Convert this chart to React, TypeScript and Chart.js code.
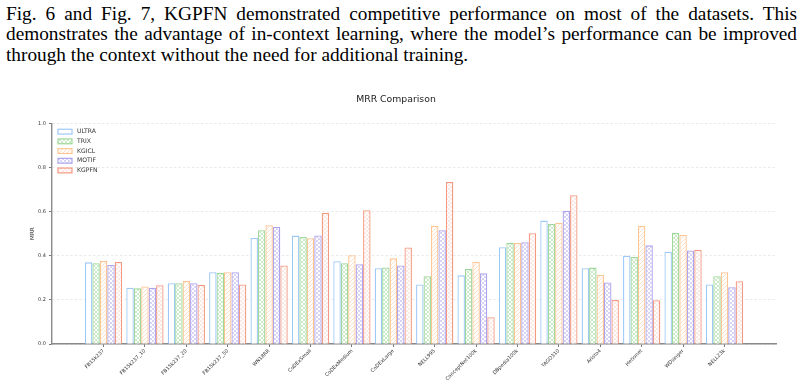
import { useEffect, useRef } from 'react';
import { Chart, registerables } from 'chart.js';

Chart.register(...registerables);

// Paragraph lines printed above the figure
const paragraphLines = [
  'Fig. 6 and Fig. 7, KGPFN demonstrated competitive performance on most of the datasets.  This',
  'demonstrates the advantage of in-context learning, where the model\u2019s performance can be improved',
  'through the context without the need for additional training.',
];

const chartTitle = 'MRR Comparison';
const yAxisLabel = 'MRR';

const categories = [
  'FB15k237', 'FB15k237_10', 'FB15k237_20', 'FB15k237_50', 'WN18RR', 'CoDExSmall',
  'CoDExMedium', 'CoDExLarge', 'NELL995', 'ConceptNet100k', 'DBpedia100k', 'YAGO310',
  'Aristo4', 'Hetionet', 'WDsinger', 'NELL23k',
];

const seriesNames = ['ULTRA', 'TRIX', 'KGICL', 'MOTIF', 'KGPFN'];

const ultra = [0.370, 0.255, 0.275, 0.325, 0.480, 0.491, 0.375, 0.343, 0.270, 0.311, 0.438, 0.559, 0.343, 0.400, 0.418, 0.270];
const trix = [0.366, 0.252, 0.275, 0.323, 0.515, 0.485, 0.366, 0.347, 0.307, 0.341, 0.459, 0.544, 0.346, 0.394, 0.503, 0.307];
const kgicl = [0.376, 0.261, 0.285, 0.325, 0.538, 0.479, 0.402, 0.388, 0.536, 0.372, 0.458, 0.548, 0.314, 0.536, 0.494, 0.325];
const motif = [0.358, 0.255, 0.275, 0.325, 0.530, 0.492, 0.361, 0.356, 0.515, 0.320, 0.461, 0.604, 0.279, 0.447, 0.424, 0.257];
const kgpfn = [0.372, 0.266, 0.267, 0.270, 0.356, 0.595, 0.606, 0.437, 0.734, 0.121, 0.502, 0.674, 0.199, 0.198, 0.427, 0.284];

const yTicks = [0.0, 0.2, 0.4, 0.6, 0.8, 1.0];

const seriesColors = ['#9ec9f7', '#9fd89a', '#fdc593', '#aea4ee', '#f59a82'];
const seriesHatches = ['none', 'cross', 'diag', 'dense', 'dots'];

const FONT = "'DejaVu Sans', sans-serif";

// Build a small repeating hatch tile for a bar fill
function makeHatch(kind: string, color: string): CanvasPattern | string {
  const size = 4;
  const c = document.createElement('canvas');
  c.width = size;
  c.height = size;
  const g = c.getContext('2d')!;
  g.fillStyle = '#ffffff';
  g.fillRect(0, 0, size, size);
  if (kind === 'none') return '#ffffff';
  g.strokeStyle = color;
  g.fillStyle = color;
  g.lineWidth = 0.65;
  g.globalAlpha = 0.85;
  if (kind === 'diag' || kind === 'cross') {
    g.beginPath();
    g.moveTo(-1, size + 1);
    g.lineTo(size + 1, -1);
    g.moveTo(-1, 1);
    g.lineTo(1, -1);
    g.moveTo(size - 1, size + 1);
    g.lineTo(size + 1, size - 1);
    g.stroke();
  }
  if (kind === 'cross') {
    g.beginPath();
    g.moveTo(-1, -1);
    g.lineTo(size + 1, size + 1);
    g.moveTo(size - 1, -1);
    g.lineTo(size + 1, 1);
    g.moveTo(-1, size - 1);
    g.lineTo(1, size + 1);
    g.stroke();
  }
  if (kind === 'dense') {
    g.fillRect(0.25, 0.25, 1.5, 1.5);
    g.fillRect(2.25, 2.25, 1.5, 1.5);
  }
  if (kind === 'dots') {
    g.fillRect(0.5, 0.5, 1, 1);
    g.fillRect(2.5, 2.5, 1, 1);
  }
  return g.createPattern(c, 'repeat')!;
}

// Legend drawn in the upper-left corner of the plotting area
const insideLegend = {
  id: 'insideLegend',
  afterDatasetsDraw(chart: any) {
    const { ctx, chartArea } = chart;
    const x0 = chartArea.left + 6;
    const y0 = chartArea.top + 6;
    const rowGap = 9.7;
    chart.data.datasets.forEach((ds: any, i: number) => {
      const y = y0 + i * rowGap;
      ctx.save();
      ctx.fillStyle = ds.backgroundColor;
      ctx.fillRect(x0, y, 14, 4.8);
      ctx.strokeStyle = ds.borderColor;
      ctx.lineWidth = 1.2;
      ctx.strokeRect(x0, y, 14, 4.8);
      ctx.fillStyle = '#333';
      ctx.font = `6.1px ${FONT}`;
      ctx.textBaseline = 'middle';
      ctx.textAlign = 'left';
      ctx.fillText(ds.label, x0 + 19, y + 2.5);
      ctx.restore();
    });
  },
};

function MrrChart() {
  const ref = useRef<HTMLCanvasElement | null>(null);

  useEffect(() => {
    if (!ref.current) return;
    const allSeries = [ultra, trix, kgicl, motif, kgpfn];
    const datasets = allSeries.map((values, s) => ({
      label: seriesNames[s],
      data: values.map((y, i) => ({ x: i, y })),
      backgroundColor: makeHatch(seriesHatches[s], seriesColors[s]),
      borderColor: seriesColors[s],
      borderWidth: 1.3,
      categoryPercentage: 0.9,
      barPercentage: 1.0,
    }));

    const chart = new Chart(ref.current, {
      type: 'bar',
      data: { datasets },
      plugins: [insideLegend],
      options: {
        animation: false,
        responsive: false,
        devicePixelRatio: 1,
        layout: { padding: { left: 16, right: 28, top: 0, bottom: 0 } },
        plugins: {
          title: {
            display: true,
            text: chartTitle,
            color: '#222',
            font: { family: FONT, size: 9.3, weight: 'normal' },
            padding: { top: 14.4, bottom: 17.7 },
          },
          legend: { display: false },
          tooltip: { enabled: false },
        },
        scales: {
          x: {
            type: 'linear',
            min: -1.245,
            max: 16.245,
            offset: false,
            afterBuildTicks: (axis: any) => {
              axis.ticks = categories.map((_, i) => ({ value: i }));
            },
            afterFit: (axis: any) => {
              axis.height = 42;
            },
            grid: {
              display: true,
              drawOnChartArea: false,
              drawTicks: true,
              tickLength: 3,
              tickColor: '#555',
              tickWidth: 0.8,
              offset: false,
            },
            border: { display: true, color: '#8a8a8a', width: 1.4 },
            ticks: {
              autoSkip: false,
              maxRotation: 45,
              minRotation: 45,
              padding: 1,
              color: '#333',
              font: { family: FONT, size: 5 },
              callback: (v: any) => categories[v] ?? '',
            },
          },
          y: {
            min: 0,
            max: 1,
            afterBuildTicks: (axis: any) => {
              axis.ticks = yTicks.map((value) => ({ value }));
            },
            afterFit: (axis: any) => {
              axis.width = 36;
            },
            grid: {
              color: 'rgba(0,0,0,0.12)',
              lineWidth: 0.7,
              drawTicks: true,
              tickLength: 3,
              tickColor: '#555',
              tickWidth: 0.8,
            },
            border: { display: true, color: '#8a8a8a', width: 1.4, dash: [2.5, 2] },
            ticks: {
              padding: 3,
              color: '#333',
              font: { family: FONT, size: 5 },
              callback: (v: any) => Number(v).toFixed(1),
            },
            title: {
              display: true,
              text: yAxisLabel,
              color: '#222',
              font: { family: FONT, size: 5.6 },
              padding: { top: 13.5, bottom: 0 },
            },
          },
        },
      } as any,
    });
    return () => chart.destroy();
  }, []);

  return (
    <canvas
      ref={ref}
      width={804}
      height={306}
      style={{ position: 'absolute', left: 0, top: 80, width: 804, height: 306 }}
    />
  );
}

export default function App() {
  return (
    <div
      style={{
        position: 'absolute',
        left: 0,
        top: 0,
        width: 804,
        height: 386,
        background: '#ffffff',
        overflow: 'hidden',
      }}
    >
      <div
        style={{
          position: 'absolute',
          left: 6,
          top: 4,
          width: 791,
          fontFamily: "'Liberation Serif', 'Times New Roman', serif",
          fontSize: 19.3,
          lineHeight: '20.3px',
          color: '#000',
        }}
      >
        {paragraphLines.map((line, i) => (
          <div
            key={i}
            style={{
              textAlign: i < paragraphLines.length - 1 ? 'justify' : 'left',
              textAlignLast: i < paragraphLines.length - 1 ? 'justify' : 'auto',
              whiteSpace: 'nowrap',
            }}
          >
            {line}
          </div>
        ))}
      </div>
      <MrrChart />
    </div>
  );
}
